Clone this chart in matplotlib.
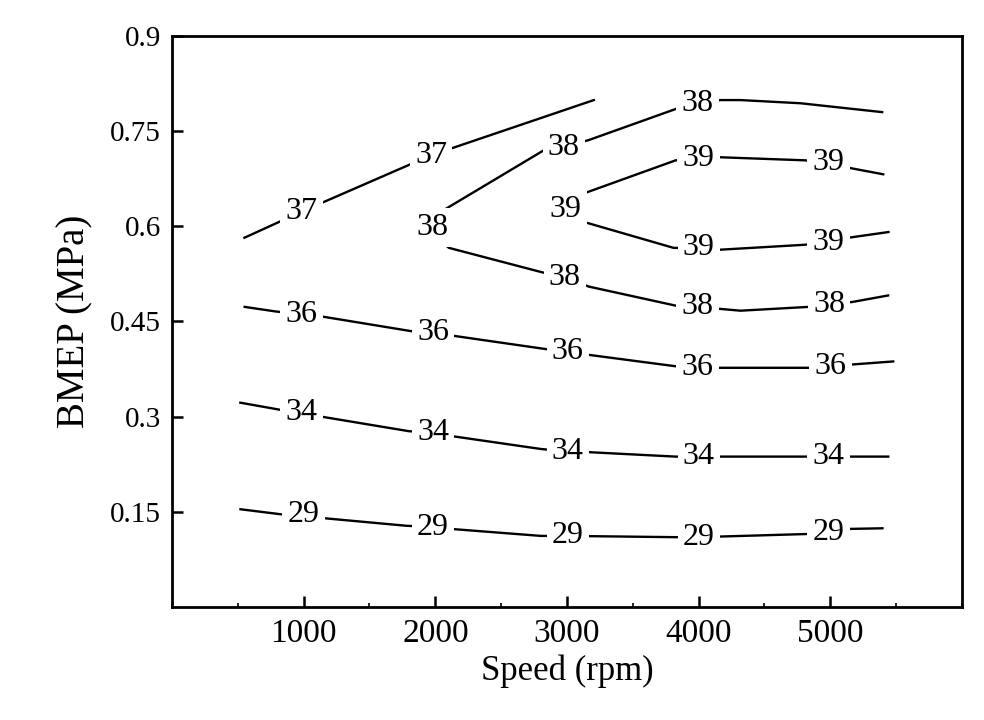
import matplotlib
matplotlib.use('Agg')
import matplotlib.pyplot as plt
from matplotlib.ticker import MultipleLocator

plt.rcParams['font.family'] = ['Liberation Serif', 'DejaVu Serif']

# contour lines: speed (rpm), bmep (MPa)
c29_speed = [520, 831, 998, 1149, 1778, 1983, 2119, 2802, 3006, 3825, 4000, 4826, 4986, 5138, 5396]
c29_bmep = [0.154, 0.146, 0.145, 0.140, 0.128, 0.126, 0.123, 0.112, 0.112, 0.110, 0.110, 0.115, 0.118, 0.123, 0.124]

c34_speed = [519, 816, 983, 1134, 1801, 1983, 2135, 2802, 3006, 3166, 3825, 4000, 5440]
c34_bmep = [0.322, 0.311, 0.307, 0.300, 0.277, 0.275, 0.269, 0.249, 0.245, 0.244, 0.237, 0.237, 0.237]

c36_speed = [552, 780, 983, 1134, 1839, 1983, 2119, 2855, 3006, 3143, 3840, 3992, 4129, 4864, 5001, 5152, 5478]
c36_bmep = [0.473, 0.466, 0.461, 0.458, 0.434, 0.432, 0.428, 0.406, 0.403, 0.398, 0.379, 0.377, 0.377, 0.377, 0.379, 0.382, 0.387]

c37_speed = [550, 983, 1968, 3204]
c37_bmep = [0.582, 0.623, 0.712, 0.799]

c38_speed = [5394, 4773, 4318, 4167, 3992, 3840, 3166, 2976, 2817, 2067, 1932,
             2104, 2802, 2984, 3166, 3825, 3992, 4318, 4834, 4993, 5174, 5439]
c38_bmep = [0.780, 0.794, 0.799, 0.799, 0.794, 0.786, 0.736, 0.725, 0.719, 0.626, 0.595,
            0.566, 0.528, 0.519, 0.505, 0.475, 0.473, 0.467, 0.473, 0.476, 0.481, 0.491]

c39_speed = [5402, 5122, 4986, 4811, 4144, 3999, 3825, 3090, 2991,
             3127, 3810, 4000, 4151, 4811, 4986, 5138, 5442]
c39_bmep = [0.682, 0.693, 0.700, 0.704, 0.709, 0.707, 0.704, 0.649, 0.626,
            0.607, 0.566, 0.566, 0.563, 0.571, 0.575, 0.582, 0.591]

# inline labels: value, speed, bmep
lab_value = ['29', '29', '29', '29', '29',
             '34', '34', '34', '34', '34',
             '36', '36', '36', '36', '36',
             '37', '37',
             '38', '38', '38', '38', '38', '38',
             '39', '39', '39', '39', '39']
lab_speed = [998, 1983, 3006, 4000, 4986,
             983, 1983, 3006, 4000, 4986,
             983, 1983, 3006, 3992, 5001,
             983, 1968,
             1976, 2976, 3992, 2984, 3992, 4993,
             2991, 3999, 4986, 4000, 4986]
lab_bmep = [0.145, 0.126, 0.112, 0.110, 0.118,
            0.307, 0.275, 0.245, 0.237, 0.237,
            0.461, 0.432, 0.403, 0.377, 0.379,
            0.623, 0.712,
            0.598, 0.725, 0.794, 0.519, 0.473, 0.476,
            0.626, 0.707, 0.700, 0.566, 0.575]

fig = plt.figure(figsize=(9.84, 7.2), dpi=100)
ax = fig.add_axes([0.1748, 0.157, 0.8028, 0.793])

for sp, bm in [(c29_speed, c29_bmep), (c34_speed, c34_bmep), (c36_speed, c36_bmep),
               (c37_speed, c37_bmep), (c38_speed, c38_bmep), (c39_speed, c39_bmep)]:
  ax.plot(sp, bm, color='black', lw=1.7, zorder=2)

for v, sp, bm in zip(lab_value, lab_speed, lab_bmep):
  ax.text(sp, bm, v, fontsize=23, ha='center', va='center', zorder=3,
          bbox=dict(boxstyle='square,pad=0.16', fc='white', ec='none'))

ax.set_xlim(0, 6000)
ax.set_ylim(0, 0.9)
ax.set_xticks([1000, 2000, 3000, 4000, 5000])
ax.xaxis.set_minor_locator(MultipleLocator(500))
ax.set_yticks([0.15, 0.3, 0.45, 0.6, 0.75, 0.9])
ax.set_yticklabels(['0.15', '0.3', '0.45', '0.6', '0.75', '0.9'])
ax.tick_params(axis='both', which='major', direction='in', length=8, width=1.8, top=False, right=False)
ax.tick_params(axis='x', which='minor', direction='in', length=3, width=1.2, top=False)
ax.tick_params(axis='x', labelsize=24, pad=8)
ax.tick_params(axis='y', labelsize=21, pad=8)
for s in ax.spines.values():
  s.set_linewidth(2)

ax.set_xlabel('Speed (rpm)', fontsize=25, labelpad=4)
ax.set_ylabel('BMEP (MPa)', fontsize=28, labelpad=12)

plt.savefig('out.png', dpi=100)
